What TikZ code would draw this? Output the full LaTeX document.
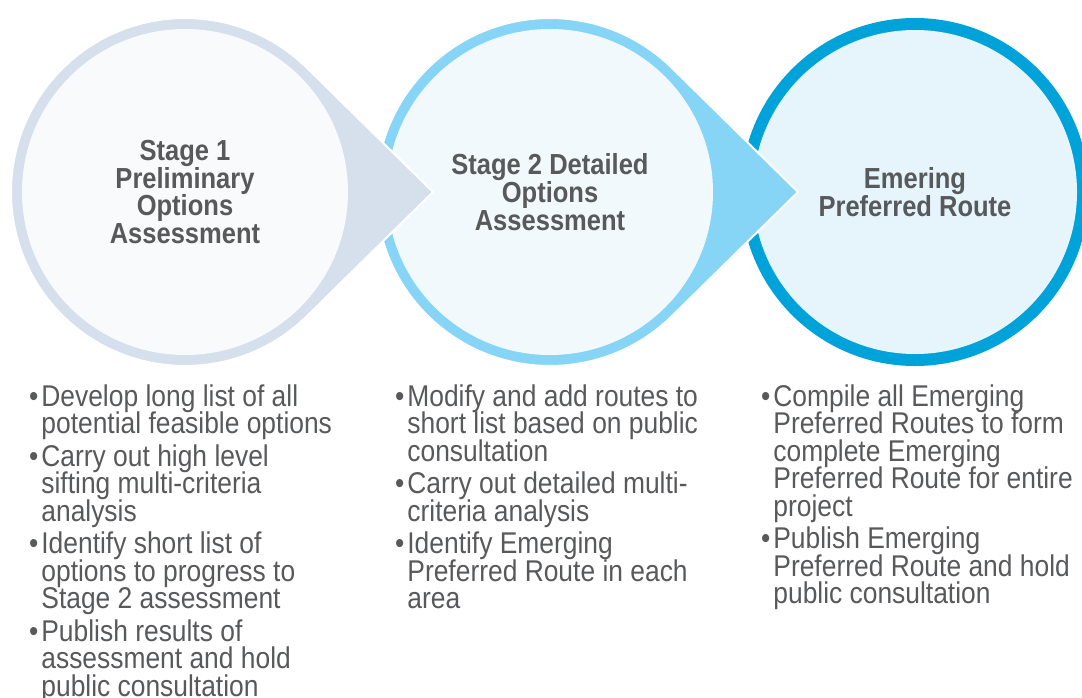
\documentclass[tikz,border=0pt]{standalone}
\usepackage{fontspec}
\setmainfont{Liberation Sans}[FakeStretch=0.88]
\usetikzlibrary{calc}

\definecolor{ringA}{HTML}{D5E0EC}
\definecolor{fillA}{HTML}{F8FAFC}
\definecolor{ringB}{HTML}{87D5F6}
\definecolor{fillB}{HTML}{F1F9FD}
\definecolor{ringC}{HTML}{00A2DA}
\definecolor{fillC}{HTML}{E5F5FB}
\definecolor{txtgray}{HTML}{58595B}

\newcommand{\tightlines}{\lineskiplimit=-20pt\lineskip=0pt\relax}
\newcommand{\itembul}{\llap{\textbullet\hspace{1.5pt}}\rule{0pt}{11.5pt}}

\begin{document}
\begin{tikzpicture}[x=0.5pt, y=-0.5pt,
	every node/.style={text=txtgray, inner sep=0pt},
	stagetitle/.style={circle, minimum size=163pt, align=center, font=\bfseries\fontsize{14.5}{13.85}\selectfont\tightlines},
	bullets/.style={anchor=north west, align=left, font=\fontsize{15}{13.75}\selectfont\tightlines},
	tear/.style={draw=white, line width=1pt}]
			\useasboundingbox (0,0) rectangle (1082,697);
			
			\fill[ringC] (915,192) circle[radius=174];
			\node[stagetitle, fill=fillC, minimum size=162pt] (s3) at (915,192) {Emering\\Preferred Route};
			
			\path[tear, fill=ringB] (798,192) -- ($(550,192)+(-45.4:174)$) arc[start angle=-45.4, end angle=-314.6, radius=174] -- cycle;
			\node[stagetitle, fill=fillB] (s2) at (550,192) {Stage 2 Detailed\\Options\\Assessment};
			
			\path[tear, fill=ringA] (433,192) -- ($(185,192)+(-45.4:174)$) arc[start angle=-45.4, end angle=-314.6, radius=174] -- cycle;
			\node[stagetitle, fill=fillA] (s1) at (185,192) {Stage 1\\Preliminary\\Options\\Assessment};
			
			\node[bullets] (l1) at (41,383) {\itembul Develop long list of all\\potential feasible options\\[2.5pt]
				\itembul Carry out high level\\sifting multi-criteria\\analysis\\[2.5pt]
				\itembul Identify short list of\\options to progress to\\Stage 2 assessment\\[2.5pt]
				\itembul Publish results of\\assessment and hold\\public consultation};
			\node[bullets] (l2) at (407,383) {\itembul Modify and add routes to\\short list based on public\\consultation\\[2.5pt]
				\itembul Carry out detailed multi-\\criteria analysis\\[2.5pt]
				\itembul Identify Emerging\\Preferred Route in each\\area};
			\node[bullets] (l3) at (773,383) {\itembul Compile all Emerging\\Preferred Routes to form\\complete Emerging\\Preferred Route for entire\\project\\[2.5pt]
				\itembul Publish Emerging\\Preferred Route and hold\\public consultation};
			\end{tikzpicture}
\end{document}
